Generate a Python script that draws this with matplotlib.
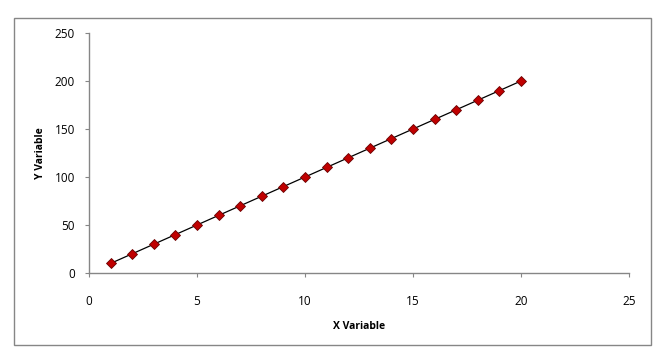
import numpy as np
import matplotlib.pyplot as plt
from matplotlib.patches import Rectangle

# Daten
x_vals = [1, 2, 3, 4, 5, 6, 7, 8, 9, 10, 11, 12, 13, 14, 15, 16, 17, 18, 19, 20]
y_vals = [10, 20, 30, 40, 50, 60, 70, 80, 90, 100, 110, 120, 130, 140, 150, 160, 170, 180, 190, 200]
x_ticks = [0, 5, 10, 15, 20, 25]
y_ticks = [0, 50, 100, 150, 200, 250]

plt.rcParams['font.family'] = ['Open Sans', 'DejaVu Sans']

fig = plt.figure(figsize=(6.71, 3.59), dpi=100)
ax = fig.add_axes([89 / 671, 1 - 273 / 359, 540 / 671, 240 / 359])

# Rahmen um das Diagramm
fig.patches.append(Rectangle((14 / 671, 1 - 345 / 359), 637 / 671, 327 / 359,
                             transform=fig.transFigure, fill=False,
                             edgecolor='#868686', linewidth=1.0))

ax.plot(x_vals, y_vals, color='black', linewidth=0.9, marker='D',
        markersize=5.5, markerfacecolor='#c00000', markeredgecolor='#6a0000',
        markeredgewidth=0.6)

ax.set_xlim(0, 25)
ax.set_ylim(0, 250)
ax.set_xticks(x_ticks)
ax.set_yticks(y_ticks)
for side in ['top', 'right']:
    ax.spines[side].set_visible(False)
for side in ['left', 'bottom']:
    ax.spines[side].set_color('#868686')
    ax.spines[side].set_linewidth(1.0)
ax.tick_params(axis='both', direction='out', length=3, color='#868686',
               labelsize=8.5)
ax.tick_params(axis='x', pad=13)
ax.tick_params(axis='y', pad=7)

ax.set_xlabel('X Variable', fontsize=7.5, fontweight='bold', labelpad=9)
ax.set_ylabel('Y Variable', fontsize=7.5, fontweight='bold', labelpad=6)

fig.savefig('out.png', dpi=100)
